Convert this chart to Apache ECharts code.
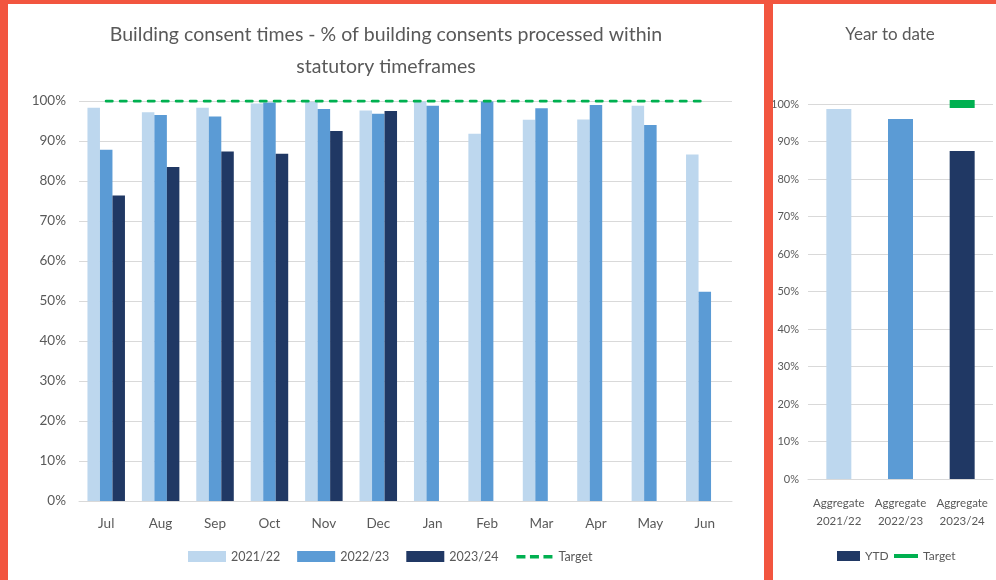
<!DOCTYPE html>
<html>
<head>
<meta charset="utf-8">
<script src="https://cdn.jsdelivr.net/npm/echarts@6/dist/echarts.min.js"></script>
<style>
html,body{margin:0;padding:0;background:#fff;}
#chart{width:996px;height:580px;}
</style>
</head>
<body>
<div id="chart"></div>
<script>
// ---- data ----
const months = ['Jul','Aug','Sep','Oct','Nov','Dec','Jan','Feb','Mar','Apr','May','Jun'];
const fy2122 = [98.3, 97.2, 98.3, 99.4, 99.8, 97.6, 99.9, 91.8, 95.3, 95.4, 98.8, 86.6];
const fy2223 = [87.8, 96.5, 96.1, 99.6, 98.0, 96.8, 98.8, 99.9, 98.2, 99.0, 94.0, 52.3];
const fy2324 = [76.4, 83.5, 87.4, 86.8, 92.5, 97.5, '-', '-', '-', '-', '-', '-'];
const target = [100, 100, 100, 100, 100, 100, 100, 100, 100, 100, 100, 100];
const ytdCategories = ['Aggregate\n2021/22', 'Aggregate\n2022/23', 'Aggregate\n2023/24'];
const ytdValues = [98.7, 96.0, 87.5];
const ytdTarget = ['-', '-', 100];
const yTicks = {min: 0, max: 100, interval: 10};

const C_LIGHT = '#BDD7EE', C_MED = '#5B9BD5', C_DARK = '#203864', C_GREEN = '#00B050';
const TXT = '#595959';
const FONT = 'Lato, sans-serif';
const RED = '#F2553F';

const chart = echarts.init(document.getElementById('chart'), null, {renderer: 'canvas'});
const ytdColors = [C_LIGHT, C_MED, C_DARK];

chart.setOption({
  animation: false,
  textStyle: {fontFamily: FONT},
  graphic: [
    {type: 'rect', shape: {x: 0, y: 0, width: 8, height: 580}, style: {fill: RED}, z: 100},
    {type: 'rect', shape: {x: 0, y: 0, width: 996, height: 4}, style: {fill: RED}, z: 100},
    {type: 'rect', shape: {x: 764, y: 0, width: 9, height: 580}, style: {fill: RED}, z: 100},
    {type: 'text', style: {x: 386, y: 35, text: 'Building consent times - % of building consents processed within',
      textAlign: 'center', textVerticalAlign: 'middle', fill: TXT, fontSize: 19.5, fontFamily: FONT}},
    {type: 'text', style: {x: 386, y: 67, text: 'statutory timeframes',
      textAlign: 'center', textVerticalAlign: 'middle', fill: TXT, fontSize: 19.5, fontFamily: FONT}},
    {type: 'text', style: {x: 890, y: 35, text: 'Year to date',
      textAlign: 'center', textVerticalAlign: 'middle', fill: TXT, fontSize: 17, fontFamily: FONT}}
  ],
  grid: [
    {left: 79, right: 264, top: 101, bottom: 79, containLabel: false},
    {left: 808, right: 3, top: 104, bottom: 101, containLabel: false}
  ],
  xAxis: [
    {type: 'category', gridIndex: 0, data: months, boundaryGap: true,
     axisLine: {lineStyle: {color: '#D9D9D9', width: 1}}, axisTick: {show: false},
     axisLabel: {color: TXT, fontSize: 13.5, margin: 16, fontFamily: FONT}},
    {type: 'category', gridIndex: 1, data: ytdCategories, boundaryGap: true,
     axisLine: {lineStyle: {color: '#D9D9D9', width: 1}}, axisTick: {show: false},
     axisLabel: {color: TXT, fontSize: 11.5, margin: 15, lineHeight: 18, interval: 0, fontFamily: FONT}}
  ],
  yAxis: [
    {type: 'value', gridIndex: 0, min: yTicks.min, max: yTicks.max, interval: yTicks.interval,
     axisLine: {show: false}, axisTick: {show: false},
     splitLine: {lineStyle: {color: '#D9D9D9', width: 1}},
     axisLabel: {formatter: '{value}%', color: TXT, fontSize: 13.5, margin: 13, fontFamily: FONT}},
    {type: 'value', gridIndex: 1, min: yTicks.min, max: yTicks.max, interval: yTicks.interval,
     axisLine: {show: false}, axisTick: {show: false},
     splitLine: {lineStyle: {color: '#D9D9D9', width: 1}},
     axisLabel: {formatter: '{value}%', color: TXT, fontSize: 11, margin: 9, fontFamily: FONT}}
  ],
  legend: [
    {left: 183, top: 545, itemWidth: 38, itemHeight: 11, itemGap: 17,
     textStyle: {color: TXT, fontSize: 12.5, fontFamily: FONT},
     data: [{name: '2021/22', icon: 'rect'}, {name: '2022/23', icon: 'rect'}, {name: '2023/24', icon: 'rect'},
            {name: 'Target', icon: 'path://M0,0 M38,11 M1,4 L10,4 L10,7.5 L1,7.5Z M14.5,4 L23.5,4 L23.5,7.5 L14.5,7.5Z M28,4 L37,4 L37,7.5 L28,7.5Z'}]},
    {left: 832, top: 545, itemWidth: 23, itemHeight: 10, itemGap: 9,
     textStyle: {color: TXT, fontSize: 12, fontFamily: FONT},
     data: [{name: 'YTD', icon: 'rect'}]},
    {left: 889, top: 545, itemWidth: 24, itemHeight: 10, itemGap: 9,
     textStyle: {color: TXT, fontSize: 12, fontFamily: FONT},
     data: [{name: 'Target', icon: 'path://M0,0 M24,10 M0,3 L24,3 L24,7 L0,7Z', itemStyle: {color: C_GREEN}}]}
  ],
  series: [
    {name: '2021/22', type: 'bar', xAxisIndex: 0, yAxisIndex: 0, data: fy2122, barWidth: 12.5, barGap: '0%',
     itemStyle: {color: C_LIGHT}},
    {name: '2022/23', type: 'bar', xAxisIndex: 0, yAxisIndex: 0, data: fy2223, barWidth: 12.5, barGap: '0%',
     itemStyle: {color: C_MED}},
    {name: '2023/24', type: 'bar', xAxisIndex: 0, yAxisIndex: 0, data: fy2324, barWidth: 12.5, barGap: '0%',
     itemStyle: {color: C_DARK}},
    {name: 'Target', type: 'line', xAxisIndex: 0, yAxisIndex: 0, data: target, symbol: 'none',
     lineStyle: {color: C_GREEN, width: 3, type: [6, 8], cap: 'round'}, itemStyle: {color: C_GREEN}, z: 5},
    {name: 'YTD', type: 'bar', xAxisIndex: 1, yAxisIndex: 1, barWidth: 25,
     data: ytdValues.map((v, i) => ({value: v, itemStyle: {color: ytdColors[i]}})),
     itemStyle: {color: C_DARK}},
    {name: 'Target', type: 'line', xAxisIndex: 1, yAxisIndex: 1, data: ytdTarget,
     symbol: 'rect', symbolSize: [25, 8], showSymbol: true, lineStyle: {width: 0},
     itemStyle: {color: C_GREEN}, z: 5}
  ]
});
</script>
</body>
</html>
